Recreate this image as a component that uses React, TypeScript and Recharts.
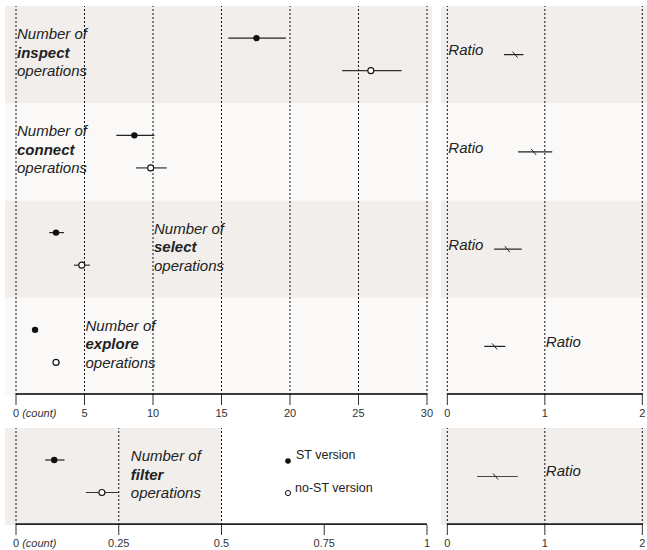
import React from "react";
import {
    ComposedChart,
    Scatter,
    ErrorBar,
    XAxis,
    YAxis,
    ReferenceArea,
    ReferenceLine,
    ReferenceDot,
} from "recharts";

// operations shown in the top panel, top to bottom
const categories = ["inspect", "connect", "select", "explore"];

// ST version: mean and 95% CI
const stMean = [17.55, 8.64, 2.92, 1.39];
const stLow = [15.5, 7.32, 2.43, 1.34];
const stHigh = [19.7, 10.1, 3.5, 1.44];

// no-ST version: mean and 95% CI
const noStMean = [25.9, 9.83, 4.8, 2.92];
const noStLow = [23.8, 8.76, 4.23, 2.68];
const noStHigh = [28.15, 11.0, 5.4, 3.21];

// ratio (ST / no-ST) with CI
const ratioMean = [0.7, 0.89, 0.62, 0.49];
const ratioLow = [0.58, 0.725, 0.48, 0.378];
const ratioHigh = [0.78, 1.076, 0.763, 0.595];

// filter operations (bottom panel)
const filterCategory = "filter";
const filterSt = { mean: 0.093, low: 0.071, high: 0.118 };
const filterNoSt = { mean: 0.209, low: 0.17, high: 0.251 };
const filterRatio = { mean: 0.5, low: 0.305, high: 0.722 };

// tick labels
const countTicks = [0, 5, 10, 15, 20, 25, 30];
const filterTicks = [0, 0.25, 0.5, 0.75, 1];
const filterGrid = [0, 0.25, 0.5];
const ratioTicks = [0, 1, 2];

// where the "Number of ..." labels sit (x in data units)
const countLabelX = [0, 0, 10, 5];
const ratioLabelX = [0, 0, 0, 1];
const filterLabelX = 0.277;
const filterRatioLabelX = 1;

const FONT = '"Liberation Sans", Arial, Helvetica, sans-serif';
const BAND_DARK = "#f1eeeb";
const BAND_LIGHT = "#faf9f8";
const INK = "#222";
const AXIS = "#3c3c3c";

const COUNT_DOMAIN: [number, number] = [-0.803, 30.365];
const RATIO_DOMAIN: [number, number] = [-0.065, 2.048];
const FILTER_DOMAIN: [number, number] = [-0.0268, 1.0122];

const withErr = (mean: number, low: number, high: number, y: number) => ({
    x: mean,
    y,
    err: [mean - low, high - mean],
});

const stData = categories.map((_, i) => withErr(stMean[i], stLow[i], stHigh[i], i + 0.33));
const noStData = categories.map((_, i) => withErr(noStMean[i], noStLow[i], noStHigh[i], i + 0.665));
const ratioData = categories.map((_, i) => withErr(ratioMean[i], ratioLow[i], ratioHigh[i], i + 0.5));

const filterStData = [withErr(filterSt.mean, filterSt.low, filterSt.high, 0.33)];
const filterNoStData = [withErr(filterNoSt.mean, filterNoSt.low, filterNoSt.high, 0.665)];
const filterRatioData = [withErr(filterRatio.mean, filterRatio.low, filterRatio.high, 0.5)];

const FilledDot = (p: any) => <circle cx={p.cx} cy={p.cy} r={3.2} fill="#111" />;
const OpenDot = (p: any) => (
    <circle cx={p.cx} cy={p.cy} r={3} fill="#fff" stroke="#111" strokeWidth={1.1} />
);
const RatioMark = (p: any) => (
    <line x1={p.cx - 3} y1={p.cy - 3} x2={p.cx + 2} y2={p.cy + 3} stroke={INK} strokeWidth={1} />
);

const OpLabel = (props: any) => {
    const { viewBox, name } = props;
    const x = viewBox.x + 1;
    const y = viewBox.y;
    return (
        <text x={x} y={y} fontFamily={FONT} fontSize={15} fill={INK} dominantBaseline="central">
            <tspan x={x} dy={-18.5} fontStyle="italic">Number of</tspan>
            <tspan x={x} dy={18.5} fontStyle="italic" fontWeight="bold">{name}</tspan>
            <tspan x={x} dy={18.5} fontStyle="italic">operations</tspan>
        </text>
    );
};

const RatioLabel = (props: any) => {
    const { viewBox } = props;
    return (
        <text x={viewBox.x + 1} y={viewBox.y} fontFamily={FONT} fontSize={15} fontStyle="italic" fill={INK} dominantBaseline="central">
            Ratio
        </text>
    );
};

const AxisTick = (props: any) => {
    const { x, y, payload } = props;
    if (payload.value === 0 && props.withCount) {
        return (
            <text x={x - 3} y={y} dy="0.71em" textAnchor="start" fontFamily={FONT} fontSize={11} fill="#333">
                0<tspan fontStyle="italic"> (count)</tspan>
            </text>
        );
    }
    return (
        <text x={x} y={y} dy="0.71em" textAnchor="middle" fontFamily={FONT} fontSize={11} fill="#333">
            {String(payload.value)}
        </text>
    );
};

const bandFill = (i: number) => (i % 2 === 0 ? BAND_DARK : BAND_LIGHT);

const App: React.FC = () => {
    return (
        <div style={{ position: "absolute", left: 0, top: 0, width: 647, height: 550, background: "#fff" }}>
            {/* top-left: counts */}
            <div style={{ position: "absolute", left: 0, top: 0 }}>
                <ComposedChart width={440} height={425} margin={{ top: 6, right: 8, bottom: 0, left: 5 }}>
                    <XAxis
                        type="number"
                        dataKey="x"
                        domain={COUNT_DOMAIN}
                        allowDataOverflow
                        ticks={countTicks}
                        interval={0}
                        axisLine={false}
                        tickLine={{ stroke: "#333" }}
                        tickSize={10}
                        tickMargin={4}
                        height={30}
                        tick={<AxisTick withCount />}
                    />
                    <YAxis type="number" dataKey="y" domain={[0, 4]} reversed hide allowDataOverflow />
                    {categories.map((c, i) => (
                        <ReferenceArea key={c} x1={COUNT_DOMAIN[0]} x2={COUNT_DOMAIN[1]} y1={i} y2={i + 1} fill={bandFill(i)} fillOpacity={1} stroke="none" />
                    ))}
                    {countTicks.map((t) => (
                        <ReferenceLine key={t} x={t} stroke="#111" strokeDasharray="2 2" strokeWidth={1} />
                    ))}
                    {/* axis line across the data range only */}
                    <ReferenceArea x1={0} x2={30} y1={3.98} y2={4} fill={AXIS} fillOpacity={1} stroke="none" />
                    {categories.map((c, i) => (
                        <ReferenceDot key={c} x={countLabelX[i]} y={i + 0.47} r={0} fill="none" stroke="none" label={<OpLabel name={c} />} />
                    ))}
                    <Scatter data={stData} shape={FilledDot} isAnimationActive={false}>
                        <ErrorBar dataKey="err" direction="x" width={0} stroke={INK} strokeWidth={1.2} isAnimationActive={false} />
                    </Scatter>
                    <Scatter data={noStData} shape={OpenDot} isAnimationActive={false}>
                        <ErrorBar dataKey="err" direction="x" width={0} stroke="#333" strokeWidth={1.2} isAnimationActive={false} />
                    </Scatter>
                </ComposedChart>
            </div>

            {/* top-right: ratios */}
            <div style={{ position: "absolute", left: 436, top: 0 }}>
                <ComposedChart width={211} height={425} margin={{ top: 6, right: 0, bottom: 0, left: 5 }}>
                    <XAxis
                        type="number"
                        dataKey="x"
                        domain={RATIO_DOMAIN}
                        allowDataOverflow
                        ticks={ratioTicks}
                        interval={0}
                        axisLine={false}
                        tickLine={{ stroke: "#333" }}
                        tickSize={10}
                        tickMargin={4}
                        height={30}
                        tick={<AxisTick />}
                    />
                    <YAxis type="number" dataKey="y" domain={[0, 4]} reversed hide allowDataOverflow />
                    {categories.map((c, i) => (
                        <ReferenceArea key={c} x1={RATIO_DOMAIN[0]} x2={RATIO_DOMAIN[1]} y1={i} y2={i + 1} fill={bandFill(i)} fillOpacity={1} stroke="none" />
                    ))}
                    {ratioTicks.map((t) => (
                        <ReferenceLine key={t} x={t} stroke="#111" strokeDasharray="2 2" strokeWidth={1} />
                    ))}
                    <ReferenceArea x1={0} x2={2} y1={3.98} y2={4} fill={AXIS} fillOpacity={1} stroke="none" />
                    {categories.map((c, i) => (
                        <ReferenceDot key={c} x={ratioLabelX[i]} y={i + 0.45} r={0} fill="none" stroke="none" label={<RatioLabel />} />
                    ))}
                    <Scatter data={ratioData} shape={RatioMark} isAnimationActive={false}>
                        <ErrorBar dataKey="err" direction="x" width={0} stroke={INK} strokeWidth={1.2} isAnimationActive={false} />
                    </Scatter>
                </ComposedChart>
            </div>

            {/* bottom-left: filter counts */}
            <div style={{ position: "absolute", left: 0, top: 420 }}>
                <ComposedChart width={440} height={130} margin={{ top: 8, right: 8, bottom: 0, left: 5 }}>
                    <XAxis
                        type="number"
                        dataKey="x"
                        domain={FILTER_DOMAIN}
                        allowDataOverflow
                        ticks={filterTicks}
                        interval={0}
                        axisLine={false}
                        tickLine={{ stroke: "#333" }}
                        tickSize={10}
                        tickMargin={4}
                        height={25}
                        tick={<AxisTick withCount />}
                    />
                    <YAxis type="number" dataKey="y" domain={[0, 1]} reversed hide allowDataOverflow />
                    <ReferenceArea x1={FILTER_DOMAIN[0]} x2={0.5} y1={0} y2={1} fill={BAND_DARK} fillOpacity={1} stroke="none" />
                    {filterGrid.map((t) => (
                        <ReferenceLine key={t} x={t} stroke="#111" strokeDasharray="2 2" strokeWidth={1} />
                    ))}
                    <ReferenceArea x1={0} x2={1} y1={0.982} y2={1} fill="#222" fillOpacity={1} stroke="none" />
                    <ReferenceDot x={filterLabelX} y={0.47} r={0} fill="none" stroke="none" label={<OpLabel name={filterCategory} />} />
                    <Scatter data={filterStData} shape={FilledDot} isAnimationActive={false}>
                        <ErrorBar dataKey="err" direction="x" width={0} stroke={INK} strokeWidth={1.2} isAnimationActive={false} />
                    </Scatter>
                    <Scatter data={filterNoStData} shape={OpenDot} isAnimationActive={false}>
                        <ErrorBar dataKey="err" direction="x" width={0} stroke="#333" strokeWidth={1.2} isAnimationActive={false} />
                    </Scatter>
                </ComposedChart>
            </div>

            {/* bottom-right: filter ratio */}
            <div style={{ position: "absolute", left: 436, top: 420 }}>
                <ComposedChart width={211} height={130} margin={{ top: 8, right: 0, bottom: 0, left: 5 }}>
                    <XAxis
                        type="number"
                        dataKey="x"
                        domain={RATIO_DOMAIN}
                        allowDataOverflow
                        ticks={ratioTicks}
                        interval={0}
                        axisLine={false}
                        tickLine={{ stroke: "#333" }}
                        tickSize={10}
                        tickMargin={4}
                        height={25}
                        tick={<AxisTick />}
                    />
                    <YAxis type="number" dataKey="y" domain={[0, 1]} reversed hide allowDataOverflow />
                    <ReferenceArea x1={RATIO_DOMAIN[0]} x2={RATIO_DOMAIN[1]} y1={0} y2={1} fill={BAND_DARK} fillOpacity={1} stroke="none" />
                    {ratioTicks.map((t) => (
                        <ReferenceLine key={t} x={t} stroke="#111" strokeDasharray="2 2" strokeWidth={1} />
                    ))}
                    <ReferenceArea x1={0} x2={2} y1={0.982} y2={1} fill="#222" fillOpacity={1} stroke="none" />
                    <ReferenceDot x={filterRatioLabelX} y={0.44} r={0} fill="none" stroke="none" label={<RatioLabel />} />
                    <Scatter data={filterRatioData} shape={RatioMark} isAnimationActive={false}>
                        <ErrorBar dataKey="err" direction="x" width={0} stroke="#444" strokeWidth={1.2} isAnimationActive={false} />
                    </Scatter>
                </ComposedChart>
            </div>

            {/* legend */}
            <svg style={{ position: "absolute", left: 280, top: 440 }} width={100} height={60}>
                <circle cx={8} cy={21} r={2.8} fill="#111" />
                <text x={16} y={15} fontFamily={FONT} fontSize={12.5} fill={INK} dominantBaseline="central">ST version</text>
                <circle cx={8} cy={53} r={2.6} fill="#fff" stroke="#111" strokeWidth={1} />
                <text x={15} y={48} fontFamily={FONT} fontSize={12.5} fill={INK} dominantBaseline="central">no-ST version</text>
            </svg>
        </div>
    );
};

export default App;
